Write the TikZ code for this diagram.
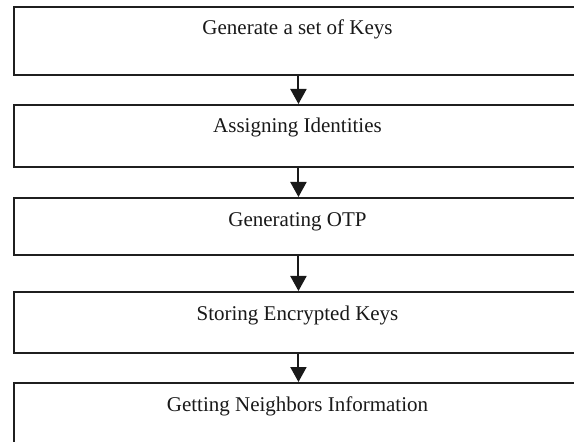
\documentclass[tikz,border=0pt]{standalone}
\usepackage{fontspec}
\setmainfont{Liberation Serif}
\usetikzlibrary{arrows.meta}
\begin{document}
\begin{tikzpicture}[x=1bp,y=-1bp,
  box/.style={draw=black!88, line width=1.9bp, rectangle, inner sep=0, anchor=north west, minimum width=569bp},
  lbl/.style={font=\fontsize{21bp}{25bp}\selectfont, anchor=base, inner sep=0, text=black!90},
  flow/.style={draw=black!90, line width=2bp, -{Triangle[length=15bp,width=16bp]}}]
\useasboundingbox (0,0) rectangle (574,442);
\clip (0,0) rectangle (574,442);
\node[box, minimum height=68bp] (b1) at (13,6) {};
\node[box, minimum height=62bp] (b2) at (13,104) {};
\node[box, minimum height=57bp] (b3) at (13,197) {};
\node[box, minimum height=61bp] (b4) at (13,291) {};
\node[box, minimum height=70bp] (b5) at (13,382) {};
\node[lbl] (t1) at (297.5,35) {Generate a set of Keys};
\node[lbl] (t2) at (297.5,133) {Assigning Identities};
\node[lbl] (t3) at (297.5,227) {Generating OTP};
\node[lbl] (t4) at (297.5,320) {Storing Encrypted Keys};
\node[lbl] (t5) at (297.5,411) {Getting Neighbors Information};
\draw[flow] (b1.south) -- (b2.north);
\draw[flow] (b2.south) -- (b3.north);
\draw[flow] (b3.south) -- (b4.north);
\draw[flow] (b4.south) -- (b5.north);
\end{tikzpicture}
\end{document}
